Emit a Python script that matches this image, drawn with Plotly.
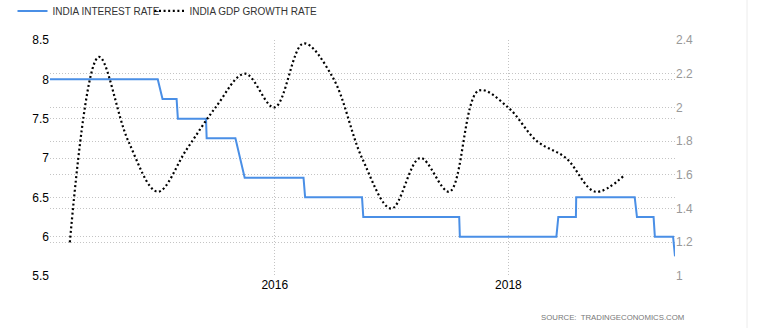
import plotly.graph_objects as go

# India interest rate (step changes, dates of points)
rate_dates = ["2014-01-28", "2014-12-31", "2015-01-15", "2015-02-28", "2015-03-04",
              "2015-05-31", "2015-06-02", "2015-08-31", "2015-09-29", "2016-03-31",
              "2016-04-05", "2016-09-30", "2016-10-04", "2017-07-31", "2017-08-02",
              "2018-05-31", "2018-06-06", "2018-07-31", "2018-08-01", "2019-01-31",
              "2019-02-07", "2019-03-31", "2019-04-04", "2019-05-31", "2019-06-06"]
rate_values = [8.0, 8.0, 7.75, 7.75, 7.5,
               7.5, 7.25, 7.25, 6.75, 6.75,
               6.5, 6.5, 6.25, 6.25, 6.0,
               6.0, 6.25, 6.25, 6.5, 6.5,
               6.25, 6.25, 6.0, 6.0, 5.75]

# India GDP growth rate (quarterly, QoQ)
gdp_dates = ["2014-03-31", "2014-06-30", "2014-09-30", "2014-12-31",
             "2015-03-31", "2015-06-30", "2015-09-30", "2015-12-31",
             "2016-03-31", "2016-06-30", "2016-09-30", "2016-12-31",
             "2017-03-31", "2017-06-30", "2017-09-30", "2017-12-31",
             "2018-03-31", "2018-06-30", "2018-09-30", "2018-12-31"]
gdp_values = [1.2, 2.3, 1.8, 1.5,
              1.75, 2.0, 2.2, 2.0,
              2.38, 2.18, 1.7, 1.4,
              1.7, 1.5, 2.1, 2.0,
              1.8, 1.7, 1.5, 1.6]

x_tick_vals = ["2016-01-01", "2018-01-01"]
x_tick_text = ["2016", "2018"]
left_ticks = [5.5, 6, 6.5, 7, 7.5, 8, 8.5]
right_ticks = [1, 1.2, 1.4, 1.6, 1.8, 2, 2.2, 2.4]

FONT = "Liberation Sans, Arial, sans-serif"
GRID = "#c4c4c4"
GDASH = "1px,2px"
LEGFONT = dict(family=FONT, size=10, color="#333")

fig = go.Figure()
fig.add_trace(go.Scatter(
    x=rate_dates, y=rate_values, name="INDIA INTEREST RATE",
    mode="lines", line=dict(color="#4a8fe6", width=2),
    yaxis="y", legend="legend"))
fig.add_trace(go.Scatter(
    x=gdp_dates, y=gdp_values, name="INDIA GDP GROWTH RATE",
    mode="lines", line=dict(color="#000000", width=2.2, dash="2px,2.6px",
                            shape="spline", smoothing=1.0),
    yaxis="y2", legend="legend2"))

fig.update_layout(
    width=760, height=328,
    margin=dict(l=50, r=85, t=40, b=52, pad=0, autoexpand=False),
    paper_bgcolor="white", plot_bgcolor="white",
    font=dict(family=FONT, size=12, color="#000"),
    showlegend=True,
    legend=dict(orientation="h", x=-0.06, y=1.123, xanchor="left", yanchor="middle",
                font=LEGFONT, bgcolor="rgba(0,0,0,0)", itemwidth=30),
    legend2=dict(orientation="h", x=0.159, y=1.123, xanchor="left", yanchor="middle",
                 font=LEGFONT, bgcolor="rgba(0,0,0,0)", itemwidth=30),
    xaxis=dict(range=["2014-01-28", "2019-06-06"], type="date",
               tickmode="array", tickvals=x_tick_vals, ticktext=x_tick_text,
               showgrid=True, gridcolor=GRID, griddash=GDASH, gridwidth=1,
               showline=False, zeroline=False, ticks="", ticklen=0,
               automargin=False,
               tickfont=dict(family=FONT, size=12, color="#000")),
    yaxis=dict(range=[5.5, 8.5], tickmode="array", tickvals=left_ticks,
               showgrid=True, gridcolor=GRID, griddash=GDASH, gridwidth=1,
               zeroline=False, showline=False, ticks="", automargin=False,
               tickfont=dict(family=FONT, size=12, color="#000")),
    yaxis2=dict(range=[1, 2.4], tickmode="array", tickvals=right_ticks,
                overlaying="y", side="right", automargin=False,
                showgrid=True, gridcolor=GRID, griddash=GDASH, gridwidth=1,
                zeroline=False, showline=False, ticks="",
                tickfont=dict(family=FONT, size=12, color="#999")),
    annotations=[dict(text="SOURCE:  TRADINGECONOMICS.COM", xref="paper", yref="paper",
                      x=1.0176, y=-0.174, xanchor="right", yanchor="middle",
                      showarrow=False,
                      font=dict(family=FONT, size=7.8, color="#777"))],
    shapes=[dict(type="line", xref="paper", yref="paper", x0=1.1152, x1=1.1152,
                 y0=-0.25, y1=1.2, line=dict(color="#ececec", width=1))],
)

fig.write_html("out.html")
